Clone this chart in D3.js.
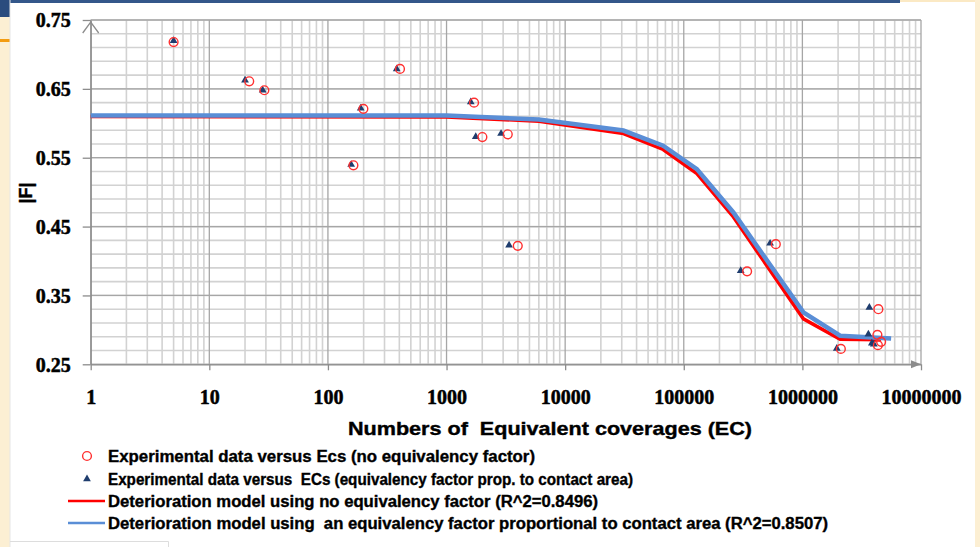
<!DOCTYPE html>
<html>
<head>
<meta charset="utf-8">
<script src="https://cdn.jsdelivr.net/npm/d3@7"></script>
<style>
  body { margin: 0; background: #fff; }
  svg { display: block; }
  text { white-space: pre; }
</style>
</head>
<body>
<svg width="980" height="547"></svg>
<script>
// experimental points, no equivalency factor (red circles)
const circX = [5, 21.7, 29.1, 164, 199, 405, 1706, 2005, 3282, 3985, 342000, 597000, 2110000, 4370000, 4290000, 4610000, 4330000];
const circY = [0.718, 0.661, 0.648, 0.539, 0.621, 0.679, 0.630, 0.580, 0.584, 0.422, 0.385, 0.4245, 0.2724, 0.330, 0.2928, 0.2826, 0.2778];

// experimental points, equivalency factor prop. to contact area (triangles)
const triX = [5, 20, 28.2, 157, 189, 380, 1600, 1763, 2882, 3366, 302000, 534000, 1950000, 3670000, 3600000, 3850000, 4000000];
const triY = [0.720, 0.6624, 0.648, 0.540, 0.622, 0.679, 0.631, 0.5805, 0.585, 0.423, 0.386, 0.4256, 0.273, 0.3325, 0.2938, 0.2805, 0.279];

// deterioration models
const modelX = [1, 1000, 6000, 31000, 67000, 129000, 262000, 1020000, 2080000, 5600000];
const blueY  = [0.61, 0.61, 0.604, 0.588, 0.566, 0.532, 0.469, 0.324, 0.290, 0.286];
const redX   = [1, 1000, 6000, 31000, 67000, 129000, 262000, 1020000, 2080000, 4600000];
const redY   = [0.61, 0.609, 0.603, 0.585, 0.562, 0.527, 0.464, 0.316, 0.2865, 0.2855];

const yTicks = [0.25, 0.35, 0.45, 0.55, 0.65, 0.75];
const xTicks = [1, 10, 100, 1000, 10000, 100000, 1000000, 10000000];

const legendLabels = [
    "Experimental data versus Ecs (no equivalency factor)",
    "Experimental data versus  ECs (equivalency factor prop. to contact area)",
    "Deterioration model using no equivalency factor (R^2=0.8496)",
    "Deterioration model using  an equivalency factor proportional to contact area (R^2=0.8507)"
];

const svg = d3.select("svg");

// slide frame bits
svg.append("rect").attr("x", 0).attr("y", 0).attr("width", 10).attr("height", 547).attr("fill", "#fcefd3");
svg.append("rect").attr("x", 0).attr("y", 0).attr("width", 10).attr("height", 17).attr("fill", "#2b4c7e");
svg.append("rect").attr("x", 0).attr("y", 39).attr("width", 10).attr("height", 3).attr("fill", "#f39c12");
svg.append("rect").attr("x", 10).attr("y", 0).attr("width", 890).attr("height", 3).attr("fill", "#34578a");
svg.append("rect").attr("x", 900).attr("y", 0).attr("width", 80).attr("height", 2).attr("fill", "#fbe9c4");
svg.append("rect").attr("x", 975).attr("y", 0).attr("width", 5).attr("height", 547).attr("fill", "#fcefd3");
svg.append("line").attr("x1", 10).attr("x2", 10).attr("y1", 0).attr("y2", 547).attr("stroke", "#e6e6e6");
svg.append("path").attr("d", "M10,541.5H168.5V547").attr("fill", "none").attr("stroke", "#dddddd");

const x = d3.scaleLog().domain([1, 1e7]).range([90.7, 921]);
const y = d3.scaleLinear().domain([0.25, 0.75]).range([364.3, 20]);

// grid
const grid = svg.append("g");
grid.selectAll(".vmin")
    .data(x.ticks().filter(v => !xTicks.includes(v)))
    .enter().append("line")
    .attr("x1", d => x(d)).attr("x2", d => x(d))
    .attr("y1", y(0.75)).attr("y2", y(0.25))
    .attr("stroke", "#d2d2d2").attr("stroke-width", 1.6);
grid.selectAll(".hmin")
    .data(d3.range(0, 26).map(i => 0.25 + i * 0.02))
    .enter().append("line")
    .attr("x1", x(1)).attr("x2", x(1e7))
    .attr("y1", d => y(d)).attr("y2", d => y(d))
    .attr("stroke", "#d2d2d2").attr("stroke-width", 1.6);
grid.selectAll(".vmaj")
    .data(xTicks)
    .enter().append("line")
    .attr("x1", d => x(d)).attr("x2", d => x(d))
    .attr("y1", y(0.75)).attr("y2", y(0.25))
    .attr("stroke", "#a6a6a6").attr("stroke-width", 1.3);
grid.selectAll(".hmaj")
    .data(yTicks)
    .enter().append("line")
    .attr("x1", x(1)).attr("x2", x(1e7))
    .attr("y1", d => y(d)).attr("y2", d => y(d))
    .attr("stroke", "#a6a6a6").attr("stroke-width", 1.3);

// axes
const yAxis = svg.append("g")
    .attr("transform", `translate(${x(1)},0)`)
    .call(d3.axisLeft(y).tickValues(yTicks).tickFormat(d3.format(".2f")).tickSize(8).tickPadding(12).tickSizeOuter(0));
const xAxis = svg.append("g")
    .attr("transform", `translate(0,${y(0.25)})`)
    .call(d3.axisBottom(x).tickValues(xTicks).tickFormat(d3.format("d")).tickSize(6).tickPadding(20).tickSizeOuter(0));

[yAxis, xAxis].forEach(a => {
    a.selectAll("path, line").attr("stroke", "#8c8c8c").attr("stroke-width", 1.3);
    a.selectAll("text")
        .attr("fill", "#000")
        .attr("stroke", "#000").attr("stroke-width", 0.5)
        .style("font-family", "'Liberation Serif', serif")
        .style("font-weight", "bold")
        .style("font-size", "20px");
});
yAxis.selectAll("text").attr("dy", "0.34em");

// axis arrows
svg.append("path")
    .attr("d", `M${x(1) - 8},${y(0.75) + 13}L${x(1)},${y(0.75) + 2}L${x(1) + 8},${y(0.75) + 13}`)
    .attr("fill", "none").attr("stroke", "#8c8c8c").attr("stroke-width", 1.3);
svg.append("path")
    .attr("d", `M${x(1e7) - 10},${y(0.25) - 4}L${x(1e7)},${y(0.25)}L${x(1e7) - 10},${y(0.25) + 4}Z`)
    .attr("fill", "#8c8c8c");

// model lines
const line = d3.line().x(d => x(d[0])).y(d => y(d[1]));
svg.append("path")
    .datum(redX.map((v, i) => [v, redY[i]]))
    .attr("d", line)
    .attr("fill", "none").attr("stroke", "#ff0000").attr("stroke-width", 3.5);
svg.append("path")
    .datum(modelX.map((v, i) => [v, blueY[i]]))
    .attr("d", line)
    .attr("fill", "none").attr("stroke", "#5a8ed6").attr("stroke-width", 4.5)
    .attr("transform", "translate(0,-1)");

// points
const tri = d3.symbol().type(d3.symbolTriangle).size(26);
svg.selectAll(".tri")
    .data(triX.map((v, i) => [v, triY[i]]))
    .enter().append("path")
    .attr("d", tri)
    .attr("transform", d => `translate(${x(d[0])},${y(d[1])})`)
    .attr("fill", "#1f3d6e");
svg.selectAll(".circ")
    .data(circX.map((v, i) => [v, circY[i]]))
    .enter().append("circle")
    .attr("cx", d => x(d[0])).attr("cy", d => y(d[1]))
    .attr("r", 4.4)
    .attr("fill", "none").attr("stroke", "#ff3030").attr("stroke-width", 1.4);

// axis titles
svg.append("text")
    .attr("x", 550).attr("y", 435)
    .attr("text-anchor", "middle")
    .attr("textLength", 404).attr("lengthAdjust", "spacingAndGlyphs")
    .attr("stroke", "#000").attr("stroke-width", 0.4)
    .style("font-family", "'Liberation Sans', Arial, sans-serif")
    .style("font-weight", "bold").style("font-size", "19px")
    .text("Numbers of  Equivalent coverages (EC)");
svg.append("text")
    .attr("transform", "translate(32,193) rotate(-90)")
    .attr("text-anchor", "middle")
    .attr("stroke", "#000").attr("stroke-width", 0.4)
    .style("font-family", "'Liberation Sans', Arial, sans-serif")
    .style("font-weight", "bold").style("font-size", "18px")
    .text("|F|");

// legend
const legendY = [456, 479, 501, 523];
const legendW = [427, 525, 490, 720];
const legend = svg.append("g");
legend.append("circle").attr("cx", 87).attr("cy", legendY[0]).attr("r", 4.4)
    .attr("fill", "none").attr("stroke", "#ff3030").attr("stroke-width", 1.4);
legend.append("path").attr("d", tri).attr("transform", `translate(87,${legendY[1]})`).attr("fill", "#1f3d6e");
legend.append("line").attr("x1", 68).attr("x2", 105).attr("y1", legendY[2]).attr("y2", legendY[2])
    .attr("stroke", "#ff0000").attr("stroke-width", 2.5);
legend.append("line").attr("x1", 68).attr("x2", 105).attr("y1", legendY[3]).attr("y2", legendY[3])
    .attr("stroke", "#5a8ed6").attr("stroke-width", 2.5);
legend.selectAll("text")
    .data(legendLabels)
    .enter().append("text")
    .attr("x", 108)
    .attr("y", (d, i) => legendY[i] + 6)
    .attr("textLength", (d, i) => legendW[i])
    .attr("lengthAdjust", "spacingAndGlyphs")
    .attr("stroke", "#000").attr("stroke-width", 0.35)
    .style("font-family", "'Liberation Sans', Arial, sans-serif")
    .style("font-weight", "bold").style("font-size", "16px")
    .text(d => d);
</script>
</body>
</html>
